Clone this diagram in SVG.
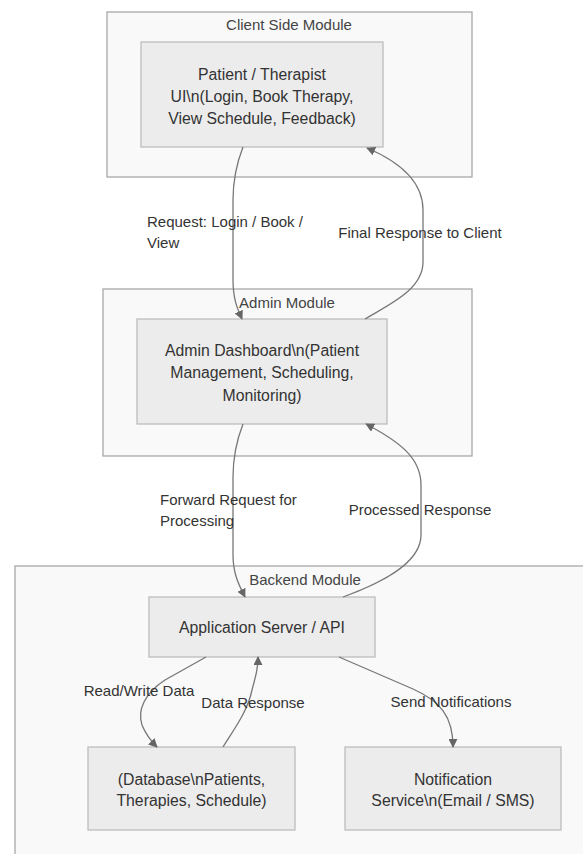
<svg xmlns="http://www.w3.org/2000/svg" width="583" height="854" viewBox="0 0 583 854">
  <defs>
    <marker id="arrow" viewBox="0 0 10 10" refX="9" refY="5" markerWidth="9" markerHeight="9" markerUnits="userSpaceOnUse" orient="auto">
      <path d="M0,0 L10,5 L0,10 z" fill="#666"/>
    </marker>
    <style>
      text { font-family: "Liberation Sans", Arial, sans-serif; fill: #333; }
      .cluster { fill: #f9f9f9; stroke: #a8a8a8; stroke-width: 1.3; }
      .node { fill: #ececec; stroke: #bdbdbd; stroke-width: 1.3; }
      .title { font-size: 15px; text-anchor: middle; fill: #444; }
      .label { font-size: 15.8px; text-anchor: middle; }
      .elabel { font-size: 15px; }
      .edge { fill: none; stroke: #777; stroke-width: 1.3; marker-end: url(#arrow); }
    </style>
  </defs>

  <rect width="583" height="854" fill="#ffffff"/>

  <!-- subgraph frames -->
  <g id="client-module">
    <rect class="cluster" x="107" y="12" width="365" height="165"/>
    <text class="title" x="289" y="30">Client Side Module</text>
  </g>
  <g id="admin-module">
    <rect class="cluster" x="103" y="289" width="369" height="167"/>
    <text class="title" x="287" y="308">Admin Module</text>
  </g>
  <g id="backend-module">
    <rect class="cluster" x="15" y="566" width="600" height="320"/>
    <text class="title" x="305" y="585">Backend Module</text>
  </g>

  <!-- nodes -->
  <g id="client-ui">
    <rect class="node" x="141" y="42" width="242" height="105"/>
    <text class="label" x="262" y="80">Patient / Therapist</text>
    <text class="label" x="262" y="102">UI\n(Login, Book Therapy,</text>
    <text class="label" x="262" y="124">View Schedule, Feedback)</text>
  </g>
  <g id="admin-dashboard">
    <rect class="node" x="137" y="319" width="250" height="105"/>
    <text class="label" x="262" y="356">Admin Dashboard\n(Patient</text>
    <text class="label" x="262" y="378">Management, Scheduling,</text>
    <text class="label" x="262" y="401">Monitoring)</text>
  </g>
  <g id="app-server">
    <rect class="node" x="149" y="597" width="226" height="60"/>
    <text class="label" x="262" y="633">Application Server / API</text>
  </g>
  <g id="database">
    <rect class="node" x="88" y="747" width="207" height="83"/>
    <text class="label" x="191.5" y="785">(Database\nPatients,</text>
    <text class="label" x="191.5" y="806">Therapies, Schedule)</text>
  </g>
  <g id="notification-service">
    <rect class="node" x="345" y="747" width="216" height="83"/>
    <text class="label" x="453" y="785">Notification</text>
    <text class="label" x="453" y="806">Service\n(Email / SMS)</text>
  </g>

  <!-- connectors -->
  <g id="connectors">
    <path class="edge" d="M243,147 C236,165 233,180 233,200 L233,280 C233,300 238,310 242,319"/>
    <path class="edge" d="M365,319 C388,305 423,290 423,262 L423,210 C423,182 400,162 367,148"/>
    <path class="edge" d="M243,424 C236,442 233,457 233,477 L233,555 C233,575 240,587 245,597"/>
    <path class="edge" d="M343,597 C376,585 421,565 421,535 L421,485 C421,458 400,442 366,424"/>
    <path class="edge" d="M206,657 L165,680 C145,693 137,710 142,725 C146,735 151,741 157,747"/>
    <path class="edge" d="M223,747 C235,728 248,710 252,690 C256,675 258,668 258,657"/>
    <path class="edge" d="M339,657 L413,689 C440,701 453,716 453,747"/>

    <text class="elabel" x="147" y="227">Request: Login / Book /</text>
    <text class="elabel" x="147" y="248">View</text>
    <text class="elabel" x="420" y="238" text-anchor="middle">Final Response to Client</text>
    <text class="elabel" x="160" y="505">Forward Request for</text>
    <text class="elabel" x="160" y="526">Processing</text>
    <text class="elabel" x="420" y="515" text-anchor="middle">Processed Response</text>
    <text class="elabel" x="139" y="696" text-anchor="middle">Read/Write Data</text>
    <text class="elabel" x="253" y="708" text-anchor="middle">Data Response</text>
    <text class="elabel" x="451" y="707" text-anchor="middle">Send Notifications</text>
  </g>
</svg>
